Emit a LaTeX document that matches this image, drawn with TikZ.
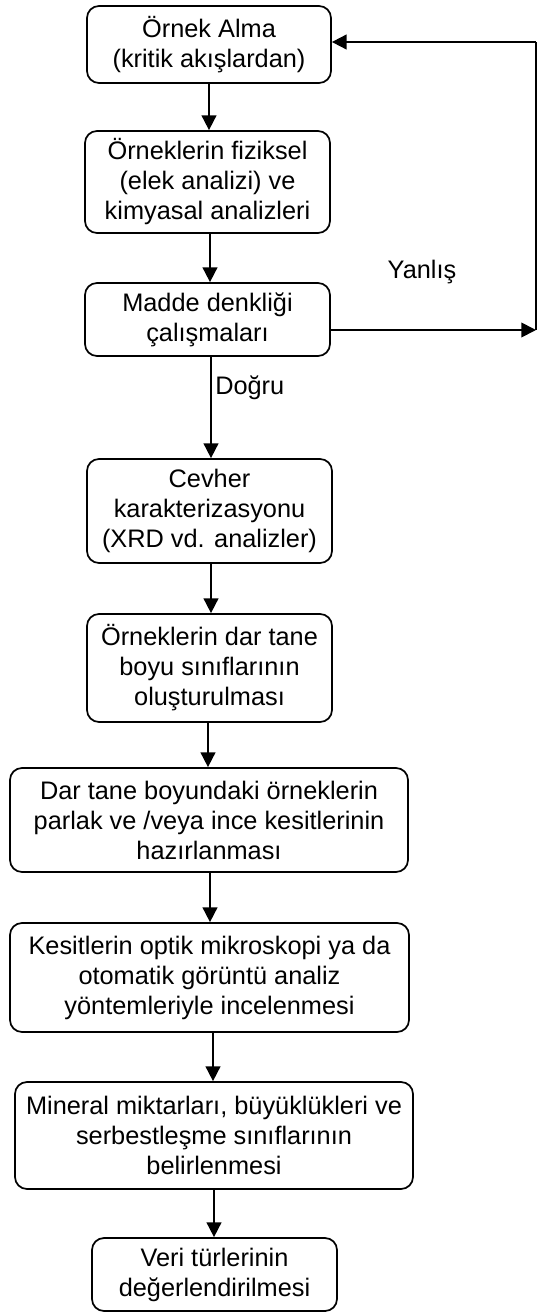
\documentclass[tikz,border=0pt]{standalone}
\usepackage{fontspec}
\setmainfont{Liberation Sans}
\usetikzlibrary{arrows.meta}
\begin{document}
\begin{tikzpicture}[x=0.75pt,y=-0.75pt,
  box/.style={draw=black, line width=1.3pt, rounded corners=9pt, align=center,
    inner sep=0pt, font=\fontsize{19}{22.5}\selectfont},
  lbl/.style={font=\fontsize{19}{22.5}\selectfont, inner sep=0pt},
  arr/.style={line width=1.3pt, -{Triangle[length=11pt,width=11pt]}},
  ln/.style={line width=1.3pt}]
\useasboundingbox (0,0) rectangle (542,1313);
\node[box, minimum width=244*0.75pt, minimum height=77*0.75pt] (b1) at (209,44.5)
  {Örnek Alma\\(kritik akışlardan)};
\node[box, minimum width=245*0.75pt, minimum height=102*0.75pt] (b2) at (207.5,182)
  {Örneklerin fiziksel\\(elek analizi) ve\\kimyasal analizleri};
\node[box, minimum width=245*0.75pt, minimum height=73*0.75pt] (b3) at (207.5,319.5)
  {Madde denkliği\\çalışmaları};
\node[box, minimum width=245*0.75pt, minimum height=104*0.75pt] (b4) at (209.5,511)
  {Cevher\\karakterizasyonu\\(XRD vd. analizler)};
\node[box, minimum width=245*0.75pt, minimum height=108*0.75pt] (b5) at (209.5,668)
  {Örneklerin dar tane\\boyu sınıflarının\\oluşturulması};
\node[box, minimum width=398*0.75pt, minimum height=104*0.75pt] (b6) at (209,820)
  {Dar tane boyundaki örneklerin\\parlak ve /veya ince kesitlerinin\\hazırlanması};
\node[box, minimum width=399*0.75pt, minimum height=109*0.75pt] (b7) at (209.5,977.5)
  {Kesitlerin optik mikroskopi ya da\\otomatik görüntü analiz\\yöntemleriyle incelenmesi};
\node[box, minimum width=398*0.75pt, minimum height=107*0.75pt] (b8) at (214,1135.5)
  {Mineral miktarları, büyüklükleri ve\\serbestleşme sınıflarının\\belirlenmesi};
\node[box, minimum width=245*0.75pt, minimum height=73*0.75pt] (b9) at (214.5,1274.5)
  {Veri türlerinin\\değerlendirilmesi};
\node[lbl] (yan) at (422,272) {Yanlış};
\node[lbl, anchor=west] (dog) at (215,388) {Doğru};
\coordinate (r1) at (536,330);
\coordinate (r2) at (536,42);
\draw[arr] (b1.south -| 209,0) -- (b2.north -| 209,0);
\draw[arr] (b2.south -| 210,0) -- (b3.north -| 210,0);
\draw[arr] (b3.south -| 211,0) -- (b4.north -| 211,0);
\draw[arr] (b4.south -| 211,0) -- (b5.north -| 211,0);
\draw[arr] (b5.south -| 208,0) -- (b6.north -| 208,0);
\draw[arr] (b6.south -| 210,0) -- (b7.north -| 210,0);
\draw[arr] (b7.south -| 213,0) -- (b8.north -| 213,0);
\draw[arr] (b8.south -| 214,0) -- (b9.north -| 214,0);
\draw[arr] (b3.east |- r1) -- (r1);
\draw[ln] (r1) -- (r2);
\draw[arr] (r2) -- (b1.east |- r2);
\end{tikzpicture}
\end{document}
